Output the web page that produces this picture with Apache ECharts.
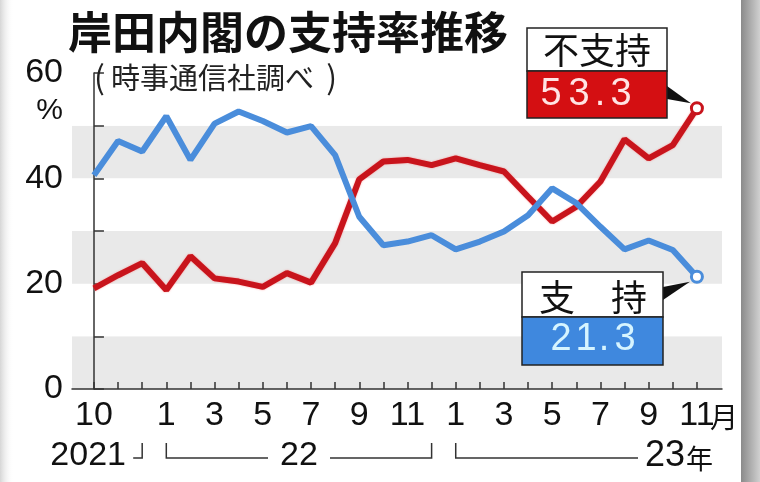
<!DOCTYPE html>
<html><head><meta charset="utf-8">
<script src="https://cdn.jsdelivr.net/npm/echarts@6/dist/echarts.min.js"></script>
<style>html,body{margin:0;padding:0;background:#fff}#c{width:760px;height:482px}</style>
</head><body><div id="c"></div>
<script>
// Months Oct 2021 .. Nov 2023
const monthNums = [10,11,12,1,2,3,4,5,6,7,8,9,10,11,12,1,2,3,4,5,6,7,8,9,10,11];
const support =     [40.6,47.1,45.1,51.8,43.5,50.4,52.7,50.9,48.7,49.9,44.4,32.7,27.3,28.0,29.2,26.5,28.0,29.9,33.0,38.1,35.3,30.8,26.5,28.2,26.4,21.3];
const disapproval = [19.1,21.6,23.9,18.8,25.2,21.0,20.4,19.4,22.0,20.2,27.7,39.8,43.2,43.5,42.5,43.8,42.5,41.3,36.5,31.8,34.6,39.4,47.4,43.8,46.3,53.3];
const xLabelIndex = [0,3,5,7,9,11,13,15,17,19,21,23,25];
const yLabels = [0,20,40,60];
const yearLabels = ['2021','22','23'];
const titleText = '岸田内閣の支持率推移';
const subtitleText = '時事通信社調べ';
const legendNames = ['不支持','支\u3000持'];

const N = monthNums.length;
const NUMF = "Liberation Sans";
const JPF = "Noto Sans CJK JP";
const RED = '#c8141c', BLUE = '#4a8ddb';

const chart = echarts.init(document.getElementById('c'), null, {renderer: 'canvas'});

function lineData(arr){
  return arr.map((v,i)=> i===arr.length-1
    ? {value:[i,v], symbol:'circle', symbolSize:11}
    : {value:[i,v], symbol:'none'});
}

const option = {
  backgroundColor: '#fff',
  animation: false,
  grid: {left: 72, right: 38, top: 73, bottom: 93},
  xAxis: {
    type: 'value', min: -0.91, max: 26.04,
    axisLine: {show: true, onZero: false, lineStyle: {color: '#333', width: 1.5}},
    axisTick: {show: true, inside: true, length: 7, customValues: monthNums.map((m,i)=>i), lineStyle: {color: '#333', width: 1.5}},
    axisLabel: {
      customValues: xLabelIndex,
      showMaxLabel: true, showMinLabel: true, hideOverlap: false,
      margin: 10, fontSize: 34, color: '#111', fontFamily: NUMF,
      formatter: function(v){ return String(monthNums[Math.round(v)]); }
    },
    splitLine: {show: false}
  },
  yAxis: {
    type: 'value', min: 0, max: 60, interval: 10,
    axisLine: {show: true, lineStyle: {color: '#333', width: 1.5}},
    axisTick: {show: true, inside: true, length: 10, lineStyle: {color: '#333', width: 1.5}},
    axisLabel: {
      margin: 9, fontSize: 34, color: '#111', fontFamily: NUMF,
      formatter: v => yLabels.indexOf(v) >= 0 ? String(v) : ''
    },
    splitLine: {show: false},
    splitArea: {show: true, areaStyle: {color: ['#e9e9e9', '#ffffff']}}
  },
  series: [
    {
      name: '不支持', type: 'line', data: lineData(disapproval), z: 3,
      lineStyle: {color: RED, width: 6, shadowColor: 'rgba(255,90,90,0.6)', shadowBlur: 2},
      itemStyle: {color: '#fff', borderColor: RED, borderWidth: 3}
    },
    {
      name: '支持', type: 'line', data: lineData(support), z: 4,
      lineStyle: {color: BLUE, width: 6},
      itemStyle: {color: '#fff', borderColor: BLUE, borderWidth: 3}
    }
  ]
};
chart.setOption(option);

const px = (i, v) => chart.convertToPixel({gridIndex: 0}, [i, v]);
const redEnd = px(N-1, disapproval[N-1]);
const blueEnd = px(N-1, support[N-1]);
const xOf = i => px(i, 0)[0];

const bracketY = 458, bracketTop = 443;
const lineSt = {stroke: '#333', lineWidth: 1.5};

function digits(str){
  return str.split('').map(ch => ch === '.' ? '{p|.}' : (ch === '1' ? '{o|1}' : '{d|' + ch + '}')).join('');
}
function numRich(color){
  const base = {fontSize: 38, fontFamily: NUMF, fill: color, color: color, align: 'center'};
  return {
    d: Object.assign({width: 28}, base),
    o: Object.assign({width: 22}, base),
    p: Object.assign({width: 14}, base)
  };
}
const numFont = "34px 'Liberation Sans', Arial, sans-serif";

const graphics = [
  // frame shadows
  {type: 'rect', z: 100, shape: {x: 0, y: 0, width: 14, height: 482},
    style: {fill: new echarts.graphic.LinearGradient(0,0,1,0,[{offset:0,color:'#d6d6d6'},{offset:1,color:'rgba(255,255,255,0)'}])}},
  {type: 'rect', z: 100, shape: {x: 741, y: 0, width: 19, height: 482},
    style: {fill: new echarts.graphic.LinearGradient(0,0,1,0,[{offset:0,color:'#8a8a8a'},{offset:1,color:'#d0d0d0'}])}},
  // title
  {type: 'text', z: 50, style: {text: titleText, x: 68, y: 32, verticalAlign: 'middle', align: 'left',
    font: "bold 44px 'Noto Sans CJK JP', sans-serif", fill: '#111'}},
  {type: 'text', z: 50, style: {text: '(', x: 94, y: 77, verticalAlign: 'middle', align: 'left',
    font: "32px 'Noto Sans CJK JP', sans-serif", fill: '#222'}},
  {type: 'text', z: 50, style: {text: subtitleText, x: 111, y: 78, verticalAlign: 'middle', align: 'left',
    font: "29px 'Noto Sans CJK JP', sans-serif", fill: '#222'}},
  {type: 'text', z: 50, style: {text: ')', x: 337, y: 77, verticalAlign: 'middle', align: 'right',
    font: "32px 'Noto Sans CJK JP', sans-serif", fill: '#222'}},
  {type: 'text', z: 50, style: {text: '%', x: 63, y: 111, verticalAlign: 'middle', align: 'right',
    font: "30px 'Liberation Sans', Arial, sans-serif", fill: '#111'}},
  // month suffix
  {type: 'text', z: 50, style: {text: '月', x: xOf(N-1) + 13, y: 417, verticalAlign: 'middle', align: 'left',
    font: "28px 'Noto Sans CJK JP', sans-serif", fill: '#111'}},
  // year brackets
  {type: 'text', z: 50, style: {text: yearLabels[0], x: 126, y: 456, verticalAlign: 'middle', align: 'right',
    font: numFont, fill: '#111'}},
  {type: 'polyline', z: 50, shape: {points: [[xOf(2)-9, bracketY],[xOf(2), bracketY],[xOf(2), bracketTop]]}, style: lineSt},
  {type: 'polyline', z: 50, shape: {points: [[xOf(3), bracketTop],[xOf(3), bracketY],[268, bracketY]]}, style: lineSt},
  {type: 'text', z: 50, style: {text: yearLabels[1], x: (xOf(3)+xOf(14))/2, y: 456, verticalAlign: 'middle', align: 'center',
    font: numFont, fill: '#111'}},
  {type: 'polyline', z: 50, shape: {points: [[330, bracketY],[xOf(14), bracketY],[xOf(14), bracketTop]]}, style: lineSt},
  {type: 'polyline', z: 50, shape: {points: [[xOf(15), bracketTop],[xOf(15), bracketY],[638, bracketY]]}, style: lineSt},
  {type: 'text', z: 50, style: {text: yearLabels[2], x: 645, y: 456, verticalAlign: 'middle', align: 'left',
    font: "36px 'Liberation Sans', Arial, sans-serif", fill: '#111'}},
  {type: 'text', z: 50, style: {text: '年', x: 686, y: 459, verticalAlign: 'middle', align: 'left',
    font: "27px 'Noto Sans CJK JP', sans-serif", fill: '#111'}},
  // red legend box
  {type: 'polygon', z: 60, shape: {points: [[667, 86],[667, 99],[redEnd[0]-6, redEnd[1]-5]]}, style: {fill: '#111'}},
  {type: 'rect', z: 60, shape: {x: 527, y: 28, width: 140, height: 43}, style: {fill: '#fff', stroke: '#222', lineWidth: 1.5}},
  {type: 'rect', z: 60, shape: {x: 527, y: 71, width: 140, height: 47}, style: {fill: '#d40f12', stroke: '#222', lineWidth: 1.5}},
  {type: 'text', z: 61, style: {text: legendNames[0], x: 597, y: 50, align: 'center', verticalAlign: 'middle',
    font: "36px 'Noto Sans CJK JP', sans-serif", fill: '#111'}},
  {type: 'text', z: 61, style: {text: digits(disapproval[N-1].toFixed(1)), x: 586, y: 95, align: 'center', verticalAlign: 'middle',
    rich: numRich('#ffe4e4')}},
  // blue legend box
  {type: 'polygon', z: 60, shape: {points: [[663, 287],[663, 300],[blueEnd[0]-7, blueEnd[1]+5]]}, style: {fill: '#111'}},
  {type: 'rect', z: 60, shape: {x: 522, y: 272, width: 141, height: 45}, style: {fill: '#fff', stroke: '#222', lineWidth: 1.5}},
  {type: 'rect', z: 60, shape: {x: 522, y: 317, width: 141, height: 48}, style: {fill: '#3f88de', stroke: '#222', lineWidth: 1.5}},
  {type: 'text', z: 61, style: {text: legendNames[1], x: 593, y: 297, align: 'center', verticalAlign: 'middle',
    font: "36px 'Noto Sans CJK JP', sans-serif", fill: '#111'}},
  {type: 'text', z: 61, style: {text: digits(support[N-1].toFixed(1)), x: 593, y: 340, align: 'center', verticalAlign: 'middle',
    rich: numRich('#d6f4ff')}}
];
chart.setOption({graphic: graphics});
</script>
</body></html>
